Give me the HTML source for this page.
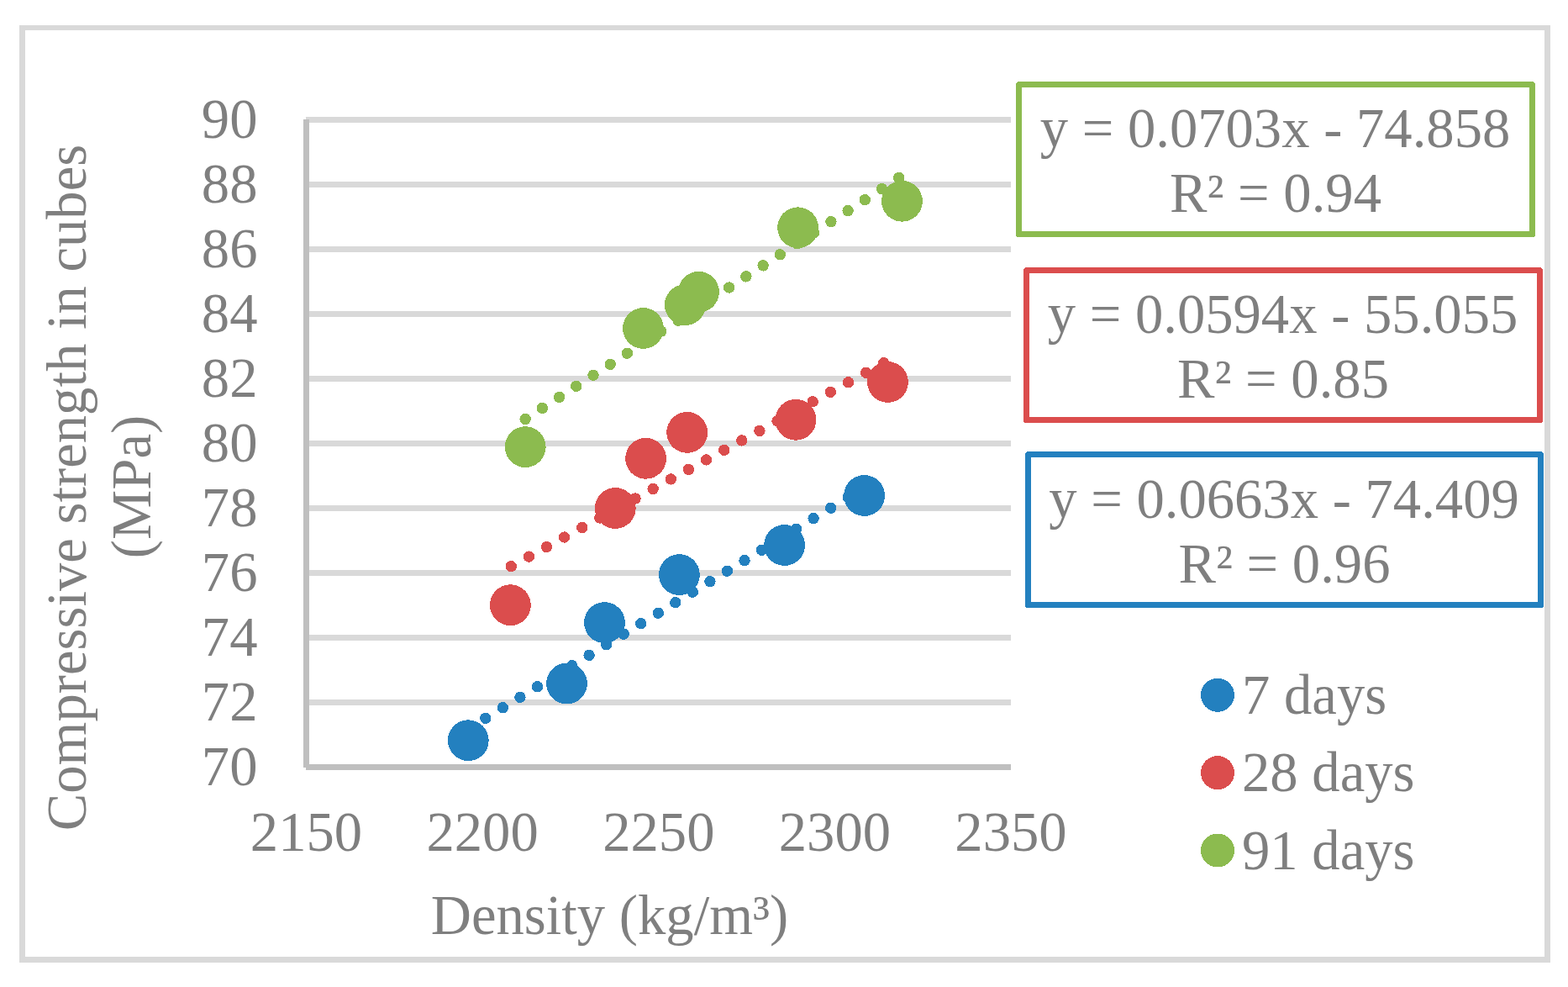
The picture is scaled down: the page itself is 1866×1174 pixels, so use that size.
<!DOCTYPE html>
<html lang="en"><head><meta charset="utf-8"><title>Compressive strength vs density</title>
<style>html,body{margin:0;padding:0;background:#fff;}body{width:1866px;height:1174px;overflow:hidden;}svg{display:block;}text{font-family:"Liberation Serif",serif;font-size:66.67px;fill:#7F7F7F;}</style>
</head><body>
<svg width="1866" height="1174" viewBox="0 0 1866 1174" shape-rendering="crispEdges">
<rect x="0" y="0" width="1866" height="1174" fill="#fff"/>
<path d="M23 30H1845V1145H23Z M30 36V1138H1838V36Z" fill="#D9D9D9" fill-rule="evenodd"/>
<rect x="364" y="139.0" width="839" height="7" fill="#D9D9D9"/>
<rect x="364" y="216.0" width="839" height="7" fill="#D9D9D9"/>
<rect x="364" y="293.0" width="839" height="7" fill="#D9D9D9"/>
<rect x="364" y="370.0" width="839" height="7" fill="#D9D9D9"/>
<rect x="364" y="447.0" width="839" height="7" fill="#D9D9D9"/>
<rect x="364" y="524.0" width="839" height="7" fill="#D9D9D9"/>
<rect x="364" y="601.0" width="839" height="7" fill="#D9D9D9"/>
<rect x="364" y="678.0" width="839" height="7" fill="#D9D9D9"/>
<rect x="364" y="755.0" width="839" height="7" fill="#D9D9D9"/>
<rect x="364" y="832.0" width="839" height="7" fill="#D9D9D9"/>
<rect x="364" y="909" width="839" height="7" fill="#BFBFBF"/>
<rect x="361" y="142" width="7" height="771" fill="#BFBFBF"/>
<text x="306.5" y="163.6" text-anchor="end">90</text>
<text x="306.5" y="240.6" text-anchor="end">88</text>
<text x="306.5" y="317.6" text-anchor="end">86</text>
<text x="306.5" y="394.6" text-anchor="end">84</text>
<text x="306.5" y="471.6" text-anchor="end">82</text>
<text x="306.5" y="548.6" text-anchor="end">80</text>
<text x="306.5" y="625.6" text-anchor="end">78</text>
<text x="306.5" y="702.6" text-anchor="end">76</text>
<text x="306.5" y="779.6" text-anchor="end">74</text>
<text x="306.5" y="856.6" text-anchor="end">72</text>
<text x="306.5" y="933.6" text-anchor="end">70</text>
<text x="364.5" y="1012" text-anchor="middle">2150</text>
<text x="574.1" y="1012" text-anchor="middle">2200</text>
<text x="783.8" y="1012" text-anchor="middle">2250</text>
<text x="993.4" y="1012" text-anchor="middle">2300</text>
<text x="1203.0" y="1012" text-anchor="middle">2350</text>
<text x="725.5" y="1110.8" text-anchor="middle">Density (kg/m³)</text>
<text transform="translate(102 580) rotate(-90)" text-anchor="middle">Compressive strength in cubes</text>
<text transform="translate(179 579) rotate(-90)" text-anchor="middle">(MPa)</text>
<circle cx="557.3" cy="880.7" r="24.4" fill="#2380BF"/>
<circle cx="674.5" cy="813.0" r="24.4" fill="#2380BF"/>
<circle cx="719.5" cy="740.6" r="24.4" fill="#2380BF"/>
<circle cx="808.4" cy="683.6" r="24.4" fill="#2380BF"/>
<circle cx="933.6" cy="648.5" r="24.4" fill="#2380BF"/>
<circle cx="1028.6" cy="589.5" r="24.4" fill="#2380BF"/>
<circle cx="557.3" cy="866.8" r="6.7" fill="#2380BF"/>
<circle cx="577.8" cy="854.3" r="6.7" fill="#2380BF"/>
<circle cx="598.4" cy="841.8" r="6.7" fill="#2380BF"/>
<circle cx="618.9" cy="829.3" r="6.7" fill="#2380BF"/>
<circle cx="639.5" cy="816.8" r="6.7" fill="#2380BF"/>
<circle cx="660.0" cy="804.3" r="6.7" fill="#2380BF"/>
<circle cx="680.6" cy="791.8" r="6.7" fill="#2380BF"/>
<circle cx="701.1" cy="779.3" r="6.7" fill="#2380BF"/>
<circle cx="721.6" cy="766.7" r="6.7" fill="#2380BF"/>
<circle cx="742.2" cy="754.2" r="6.7" fill="#2380BF"/>
<circle cx="762.7" cy="741.7" r="6.7" fill="#2380BF"/>
<circle cx="783.3" cy="729.2" r="6.7" fill="#2380BF"/>
<circle cx="803.8" cy="716.7" r="6.7" fill="#2380BF"/>
<circle cx="824.3" cy="704.2" r="6.7" fill="#2380BF"/>
<circle cx="844.9" cy="691.7" r="6.7" fill="#2380BF"/>
<circle cx="865.4" cy="679.2" r="6.7" fill="#2380BF"/>
<circle cx="886.0" cy="666.7" r="6.7" fill="#2380BF"/>
<circle cx="906.5" cy="654.2" r="6.7" fill="#2380BF"/>
<circle cx="927.1" cy="641.7" r="6.7" fill="#2380BF"/>
<circle cx="947.6" cy="629.2" r="6.7" fill="#2380BF"/>
<circle cx="968.1" cy="616.7" r="6.7" fill="#2380BF"/>
<circle cx="988.7" cy="604.2" r="6.7" fill="#2380BF"/>
<circle cx="1009.2" cy="591.6" r="6.7" fill="#2380BF"/>
<circle cx="607.4" cy="719.7" r="24.4" fill="#DB4D4D"/>
<circle cx="732.3" cy="604.5" r="24.4" fill="#DB4D4D"/>
<circle cx="768.6" cy="545.3" r="24.4" fill="#DB4D4D"/>
<circle cx="817.7" cy="514.4" r="24.4" fill="#DB4D4D"/>
<circle cx="947.0" cy="499.3" r="24.4" fill="#DB4D4D"/>
<circle cx="1056.5" cy="454.5" r="24.4" fill="#DB4D4D"/>
<circle cx="608.3" cy="673.6" r="6.7" fill="#DB4D4D"/>
<circle cx="629.4" cy="662.1" r="6.7" fill="#DB4D4D"/>
<circle cx="650.5" cy="650.6" r="6.7" fill="#DB4D4D"/>
<circle cx="671.6" cy="639.0" r="6.7" fill="#DB4D4D"/>
<circle cx="692.8" cy="627.5" r="6.7" fill="#DB4D4D"/>
<circle cx="713.9" cy="616.0" r="6.7" fill="#DB4D4D"/>
<circle cx="735.0" cy="604.5" r="6.7" fill="#DB4D4D"/>
<circle cx="756.1" cy="593.0" r="6.7" fill="#DB4D4D"/>
<circle cx="777.2" cy="581.5" r="6.7" fill="#DB4D4D"/>
<circle cx="798.3" cy="569.9" r="6.7" fill="#DB4D4D"/>
<circle cx="819.4" cy="558.4" r="6.7" fill="#DB4D4D"/>
<circle cx="840.5" cy="546.9" r="6.7" fill="#DB4D4D"/>
<circle cx="861.7" cy="535.4" r="6.7" fill="#DB4D4D"/>
<circle cx="882.8" cy="523.9" r="6.7" fill="#DB4D4D"/>
<circle cx="903.9" cy="512.4" r="6.7" fill="#DB4D4D"/>
<circle cx="925.0" cy="500.8" r="6.7" fill="#DB4D4D"/>
<circle cx="946.1" cy="489.3" r="6.7" fill="#DB4D4D"/>
<circle cx="967.2" cy="477.8" r="6.7" fill="#DB4D4D"/>
<circle cx="988.3" cy="466.3" r="6.7" fill="#DB4D4D"/>
<circle cx="1009.5" cy="454.8" r="6.7" fill="#DB4D4D"/>
<circle cx="1030.6" cy="443.3" r="6.7" fill="#DB4D4D"/>
<circle cx="1051.7" cy="431.7" r="6.7" fill="#DB4D4D"/>
<circle cx="625.2" cy="531.6" r="24.4" fill="#8CBB4F"/>
<circle cx="765.5" cy="390.5" r="24.4" fill="#8CBB4F"/>
<circle cx="815.3" cy="362.7" r="24.4" fill="#8CBB4F"/>
<circle cx="831.5" cy="347.3" r="24.4" fill="#8CBB4F"/>
<circle cx="949.6" cy="270.8" r="24.4" fill="#8CBB4F"/>
<circle cx="1073.5" cy="239.3" r="24.4" fill="#8CBB4F"/>
<circle cx="625.2" cy="498.5" r="6.7" fill="#8CBB4F"/>
<circle cx="645.4" cy="485.5" r="6.7" fill="#8CBB4F"/>
<circle cx="665.6" cy="472.4" r="6.7" fill="#8CBB4F"/>
<circle cx="685.8" cy="459.4" r="6.7" fill="#8CBB4F"/>
<circle cx="706.0" cy="446.3" r="6.7" fill="#8CBB4F"/>
<circle cx="726.2" cy="433.3" r="6.7" fill="#8CBB4F"/>
<circle cx="746.4" cy="420.2" r="6.7" fill="#8CBB4F"/>
<circle cx="766.6" cy="407.2" r="6.7" fill="#8CBB4F"/>
<circle cx="786.8" cy="394.1" r="6.7" fill="#8CBB4F"/>
<circle cx="807.0" cy="381.1" r="6.7" fill="#8CBB4F"/>
<circle cx="827.3" cy="368.1" r="6.7" fill="#8CBB4F"/>
<circle cx="847.5" cy="355.0" r="6.7" fill="#8CBB4F"/>
<circle cx="867.7" cy="342.0" r="6.7" fill="#8CBB4F"/>
<circle cx="887.9" cy="328.9" r="6.7" fill="#8CBB4F"/>
<circle cx="908.1" cy="315.9" r="6.7" fill="#8CBB4F"/>
<circle cx="928.3" cy="302.8" r="6.7" fill="#8CBB4F"/>
<circle cx="948.5" cy="289.8" r="6.7" fill="#8CBB4F"/>
<circle cx="968.7" cy="276.8" r="6.7" fill="#8CBB4F"/>
<circle cx="988.9" cy="263.7" r="6.7" fill="#8CBB4F"/>
<circle cx="1009.1" cy="250.7" r="6.7" fill="#8CBB4F"/>
<circle cx="1029.3" cy="237.6" r="6.7" fill="#8CBB4F"/>
<circle cx="1049.5" cy="224.6" r="6.7" fill="#8CBB4F"/>
<circle cx="1069.7" cy="211.5" r="6.7" fill="#8CBB4F"/>
<rect x="1212.5" y="100.5" width="611" height="178" fill="#fff" stroke="#8CBB4F" stroke-width="7" stroke-linejoin="round"/>
<text x="1517.5" y="175" text-anchor="middle">y = 0.0703x - 74.858</text>
<text x="1518.0" y="251.5" text-anchor="middle">R² = 0.94</text>
<rect x="1221.5" y="321.5" width="611" height="178" fill="#fff" stroke="#DB4D4D" stroke-width="7" stroke-linejoin="round"/>
<text x="1526.5" y="396" text-anchor="middle">y = 0.0594x - 55.055</text>
<text x="1527.0" y="472.5" text-anchor="middle">R² = 0.85</text>
<rect x="1223.5" y="540.5" width="610" height="179" fill="#fff" stroke="#2380BF" stroke-width="7" stroke-linejoin="round"/>
<text x="1528.0" y="616" text-anchor="middle">y = 0.0663x - 74.409</text>
<text x="1528.5" y="692.5" text-anchor="middle">R² = 0.96</text>
<circle cx="1449" cy="826.8" r="20" fill="#2380BF"/>
<text x="1478" y="848.8">7 days</text>
<circle cx="1449" cy="919.1" r="20" fill="#DB4D4D"/>
<text x="1478" y="941.1">28 days</text>
<circle cx="1449" cy="1011.5" r="20" fill="#8CBB4F"/>
<text x="1478" y="1033.5">91 days</text>
</svg>
</body></html>
